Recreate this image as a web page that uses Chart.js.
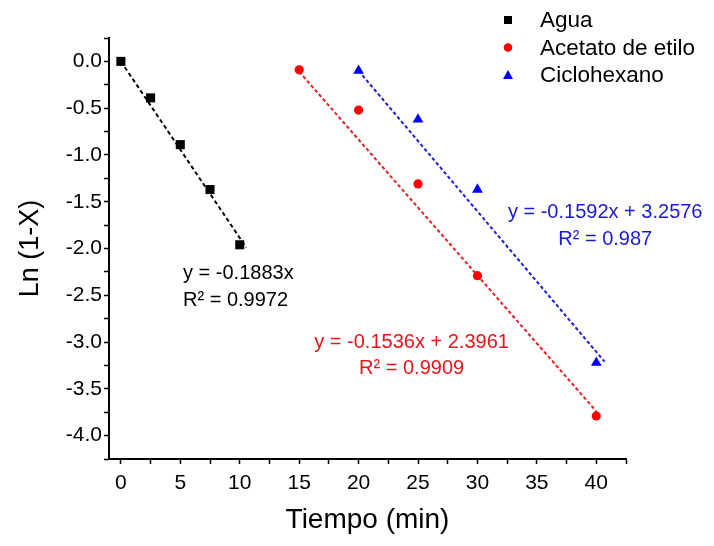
<!DOCTYPE html>
<html><head><meta charset="utf-8">
<script src="https://cdn.jsdelivr.net/npm/chart.js@4/dist/chart.umd.min.js"></script>
<style>html,body{margin:0;padding:0;background:#fff}#wrap{width:714px;height:546px}</style>
</head><body><div id="wrap"><canvas id="c" width="714" height="546"></canvas></div>
<script>
// ---- data ----
const seriesNames = ['Agua', 'Acetato de etilo', 'Ciclohexano'];
const aguaTime = [0, 2.5, 5, 7.5, 10];
const aguaLn = [0, -0.39, -0.89, -1.37, -1.96];
const acetatoTime = [15, 20, 25, 30, 40];
const acetatoLn = [-0.09, -0.52, -1.31, -2.29, -3.79];
const cicloTime = [20, 25, 30, 40];
const cicloLn = [-0.10, -0.62, -1.37, -3.22];
// fitted trend lines (end points as drawn)
const aguaFitTime = [0, 10.55];
const aguaFitLn = [0, -1.99];
const acetatoFitTime = [15, 40];
const acetatoFitLn = [-0.11, -3.74];
const cicloFitTime = [20, 40.7];
const cicloFitLn = [-0.10, -3.21];
// axis tick positions (major labelled, minor unlabelled)
const xTickValues = [0, 2.5, 5, 7.5, 10, 12.5, 15, 17.5, 20, 22.5, 25, 27.5, 30, 32.5, 35, 37.5, 40, 42.5];
const xTickLabels = ['0', '', '5', '', '10', '', '15', '', '20', '', '25', '', '30', '', '35', '', '40', ''];
// equation labels
const eqTexts = [
  ['y = -0.1883x', 'R² = 0.9972'],
  ['y = -0.1536x + 2.3961', 'R² = 0.9909'],
  ['y = -0.1592x + 3.2576', 'R² = 0.987']
];
const xTitle = 'Tiempo (min)';
const yTitle = 'Ln (1-X)';

// ---- styling ----
const FONT = "'Liberation Sans', Arial, Helvetica, sans-serif";
const colors = ['#000000', '#ff0000', '#0000ff'];
const lineColors = ['#000000', '#e51e24', '#1d1dd6'];
const textColors = ['#000000', '#e3161c', '#1a1ad2'];
const styles = ['rect', 'circle', 'triangle'];
const radii = [6.4, 4.6, 6.2];
// label anchors in data units
const eqAnchors = [
  {x: 5.23, y: -2.268, align: 'left'},
  {x: 24.46, y: -3.0, align: 'center'},
  {x: 40.75, y: -1.62, align: 'center'}
];

const pts = (xs, ys) => xs.map((x, i) => ({x, y: ys[i]}));
const isMult = (v, s) => v !== undefined && Math.abs(v / s - Math.round(v / s)) < 1e-6;

const pointSets = [pts(aguaTime, aguaLn), pts(acetatoTime, acetatoLn), pts(cicloTime, cicloLn)];
const fitSets = [pts(aguaFitTime, aguaFitLn), pts(acetatoFitTime, acetatoFitLn), pts(cicloFitTime, cicloFitLn)];

const datasets = [];
for (let i = 0; i < 3; i++) {
  datasets.push({
    label: seriesNames[i] + ' ajuste', data: fitSets[i], showLine: true,
    borderColor: lineColors[i], borderWidth: 2, borderDash: i === 0 ? [4, 3] : [3.5, 2.5],
    pointRadius: 0, fill: false, order: 2, isFit: true
  });
}
for (let i = 0; i < 3; i++) {
  datasets.push({
    label: seriesNames[i], data: pointSets[i], showLine: false,
    pointStyle: styles[i], pointRadius: radii[i], pointHoverRadius: radii[i],
    backgroundColor: colors[i], borderColor: colors[i], borderWidth: 0, order: 1
  });
}

const overlay = {
  id: 'overlay',
  afterDraw(chart) {
    const ctx = chart.ctx;
    const xs = chart.scales.x, ys = chart.scales.y;
    ctx.save();
    // equation labels
    ctx.font = '20px ' + FONT;
    ctx.textBaseline = 'middle';
    eqAnchors.forEach((a, i) => {
      ctx.fillStyle = textColors[i];
      ctx.textAlign = a.align;
      const px = xs.getPixelForValue(a.x), py = ys.getPixelForValue(a.y);
      eqTexts[i].forEach((t, k) => ctx.fillText(t, px, py + k * 26.5));
    });
    // legend
    ctx.font = '22.5px ' + FONT;
    ctx.textAlign = 'left';
    const lx = 508, tx = 540, ly0 = 20, dy = 27.5;
    chart.data.datasets.filter(d => !d.isFit).forEach((d, i) => {
      const y = ly0 + i * dy;
      ctx.fillStyle = d.backgroundColor;
      ctx.beginPath();
      if (d.pointStyle === 'rect') {
        ctx.rect(lx - 4, y - 4, 8, 8);
      } else if (d.pointStyle === 'circle') {
        ctx.arc(lx, y, 4.3, 0, Math.PI * 2);
      } else {
        ctx.moveTo(lx, y - 5); ctx.lineTo(lx + 5, y + 4); ctx.lineTo(lx - 5, y + 4); ctx.closePath();
      }
      ctx.fill();
      ctx.fillStyle = '#000';
      ctx.fillText(d.label, tx, y + 1);
    });
    ctx.restore();
  }
};

new Chart(document.getElementById('c'), {
  type: 'scatter',
  data: {datasets},
  options: {
    responsive: false, devicePixelRatio: 1, animation: false,
    layout: {padding: {top: 38, right: 88, left: 0, bottom: 0}},
    plugins: {legend: {display: false}, tooltip: {enabled: false}},
    scales: {
      x: {
        type: 'linear', min: -1, max: 42.5,
        afterBuildTicks: s => { s.ticks = xTickValues.map(v => ({value: v})); },
        border: {display: true, color: '#000', width: 2},
        grid: {drawOnChartArea: false, drawTicks: true, tickLength: 5, tickWidth: 1.5, tickColor: '#000'},
        ticks: {autoSkip: false, maxRotation: 0, padding: 7, color: '#000',
          font: {family: FONT, size: 21},
          callback: (v, i) => xTickLabels[i] ?? ''},
        title: {display: true, text: xTitle, color: '#000', font: {family: FONT, size: 28}, padding: {top: 0, bottom: 9}},
        afterFit: s => { s.height = 87; }
      },
      y: {
        type: 'linear', min: -4.25, max: 0.25,
        border: {display: true, color: '#000', width: 2},
        grid: {drawOnChartArea: false, drawTicks: true, tickLength: 5, tickWidth: 1.5,
          tickColor: c => (c.tick && isMult(c.tick.value, 0.25)) ? '#000' : 'rgba(0,0,0,0)'},
        ticks: {stepSize: 0.25, autoSkip: false, padding: 2, color: '#000',
          font: {family: FONT, size: 21},
          callback: v => isMult(v, 0.5) ? (Math.abs(v) < 1e-9 ? '0.0' : v.toFixed(1)) : ''},
        title: {display: true, text: yTitle, color: '#000', font: {family: FONT, size: 27}, padding: {top: 14, bottom: 0}},
        afterFit: s => { s.width = 109; }
      }
    }
  },
  plugins: [overlay]
});
</script></body></html>
